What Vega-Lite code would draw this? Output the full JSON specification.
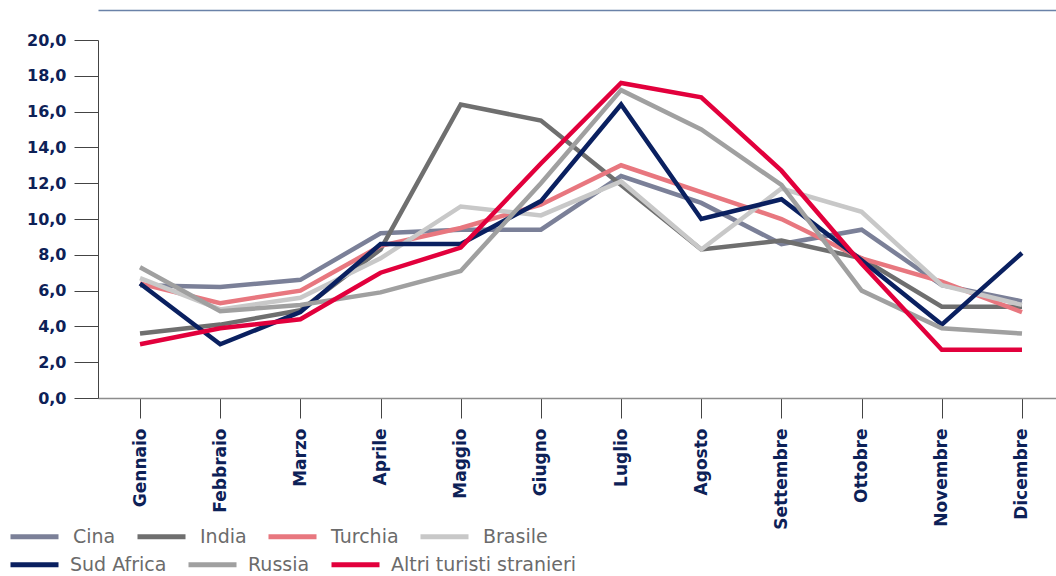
{
  "$schema": "https://vega.github.io/schema/vega-lite/v6.json",
  "width": 966,
  "height": 358,
  "autosize": {"type": "none"},
  "padding": {"left": 98, "top": 40, "right": 0, "bottom": 178},
  "background": "#ffffff",
  "config": {
    "view": {"stroke": null},
    "axis": {"grid": false, "labelFont": "DejaVu Sans", "labelFontWeight": "bold", "labelColor": "#0d2157", "labelFontSize": 16},
    "legend": {"labelFont": "DejaVu Sans", "labelFontSize": 19, "labelColor": "#6b6b6b", "labelLimit": 400, "title": null, "orient": "none", "direction": "horizontal", "symbolType": "stroke", "symbolSize": 2304, "symbolStrokeWidth": 5, "labelOffset": 12, "columnPadding": 11, "gridAlign": "each"}
  },
  "data": {"values": [
    {"serie": "Cina", "mese": "Gennaio", "v": 6.3}, {"serie": "Cina", "mese": "Febbraio", "v": 6.2}, {"serie": "Cina", "mese": "Marzo", "v": 6.6}, {"serie": "Cina", "mese": "Aprile", "v": 9.2}, {"serie": "Cina", "mese": "Maggio", "v": 9.4}, {"serie": "Cina", "mese": "Giugno", "v": 9.4}, {"serie": "Cina", "mese": "Luglio", "v": 12.4}, {"serie": "Cina", "mese": "Agosto", "v": 10.9}, {"serie": "Cina", "mese": "Settembre", "v": 8.6}, {"serie": "Cina", "mese": "Ottobre", "v": 9.4}, {"serie": "Cina", "mese": "Novembre", "v": 6.3}, {"serie": "Cina", "mese": "Dicembre", "v": 5.4},
    {"serie": "India", "mese": "Gennaio", "v": 3.6}, {"serie": "India", "mese": "Febbraio", "v": 4.1}, {"serie": "India", "mese": "Marzo", "v": 4.9}, {"serie": "India", "mese": "Aprile", "v": 8.3}, {"serie": "India", "mese": "Maggio", "v": 16.4}, {"serie": "India", "mese": "Giugno", "v": 15.5}, {"serie": "India", "mese": "Luglio", "v": 11.9}, {"serie": "India", "mese": "Agosto", "v": 8.3}, {"serie": "India", "mese": "Settembre", "v": 8.8}, {"serie": "India", "mese": "Ottobre", "v": 7.8}, {"serie": "India", "mese": "Novembre", "v": 5.1}, {"serie": "India", "mese": "Dicembre", "v": 5.1},
    {"serie": "Turchia", "mese": "Gennaio", "v": 6.4}, {"serie": "Turchia", "mese": "Febbraio", "v": 5.3}, {"serie": "Turchia", "mese": "Marzo", "v": 6.0}, {"serie": "Turchia", "mese": "Aprile", "v": 8.5}, {"serie": "Turchia", "mese": "Maggio", "v": 9.5}, {"serie": "Turchia", "mese": "Giugno", "v": 10.8}, {"serie": "Turchia", "mese": "Luglio", "v": 13.0}, {"serie": "Turchia", "mese": "Agosto", "v": 11.5}, {"serie": "Turchia", "mese": "Settembre", "v": 10.0}, {"serie": "Turchia", "mese": "Ottobre", "v": 7.8}, {"serie": "Turchia", "mese": "Novembre", "v": 6.5}, {"serie": "Turchia", "mese": "Dicembre", "v": 4.8},
    {"serie": "Brasile", "mese": "Gennaio", "v": 6.7}, {"serie": "Brasile", "mese": "Febbraio", "v": 4.95}, {"serie": "Brasile", "mese": "Marzo", "v": 5.6}, {"serie": "Brasile", "mese": "Aprile", "v": 7.8}, {"serie": "Brasile", "mese": "Maggio", "v": 10.7}, {"serie": "Brasile", "mese": "Giugno", "v": 10.2}, {"serie": "Brasile", "mese": "Luglio", "v": 12.1}, {"serie": "Brasile", "mese": "Agosto", "v": 8.3}, {"serie": "Brasile", "mese": "Settembre", "v": 11.7}, {"serie": "Brasile", "mese": "Ottobre", "v": 10.4}, {"serie": "Brasile", "mese": "Novembre", "v": 6.3}, {"serie": "Brasile", "mese": "Dicembre", "v": 5.2},
    {"serie": "Sud Africa", "mese": "Gennaio", "v": 6.4}, {"serie": "Sud Africa", "mese": "Febbraio", "v": 3.0}, {"serie": "Sud Africa", "mese": "Marzo", "v": 4.8}, {"serie": "Sud Africa", "mese": "Aprile", "v": 8.6}, {"serie": "Sud Africa", "mese": "Maggio", "v": 8.6}, {"serie": "Sud Africa", "mese": "Giugno", "v": 11.0}, {"serie": "Sud Africa", "mese": "Luglio", "v": 16.4}, {"serie": "Sud Africa", "mese": "Agosto", "v": 10.0}, {"serie": "Sud Africa", "mese": "Settembre", "v": 11.1}, {"serie": "Sud Africa", "mese": "Ottobre", "v": 7.7}, {"serie": "Sud Africa", "mese": "Novembre", "v": 4.1}, {"serie": "Sud Africa", "mese": "Dicembre", "v": 8.1},
    {"serie": "Russia", "mese": "Gennaio", "v": 7.3}, {"serie": "Russia", "mese": "Febbraio", "v": 4.85}, {"serie": "Russia", "mese": "Marzo", "v": 5.2}, {"serie": "Russia", "mese": "Aprile", "v": 5.9}, {"serie": "Russia", "mese": "Maggio", "v": 7.1}, {"serie": "Russia", "mese": "Giugno", "v": 12.0}, {"serie": "Russia", "mese": "Luglio", "v": 17.2}, {"serie": "Russia", "mese": "Agosto", "v": 15.0}, {"serie": "Russia", "mese": "Settembre", "v": 11.9}, {"serie": "Russia", "mese": "Ottobre", "v": 6.0}, {"serie": "Russia", "mese": "Novembre", "v": 3.9}, {"serie": "Russia", "mese": "Dicembre", "v": 3.6},
    {"serie": "Altri turisti stranieri", "mese": "Gennaio", "v": 3.0}, {"serie": "Altri turisti stranieri", "mese": "Febbraio", "v": 3.9}, {"serie": "Altri turisti stranieri", "mese": "Marzo", "v": 4.4}, {"serie": "Altri turisti stranieri", "mese": "Aprile", "v": 7.0}, {"serie": "Altri turisti stranieri", "mese": "Maggio", "v": 8.4}, {"serie": "Altri turisti stranieri", "mese": "Giugno", "v": 13.1}, {"serie": "Altri turisti stranieri", "mese": "Luglio", "v": 17.6}, {"serie": "Altri turisti stranieri", "mese": "Agosto", "v": 16.8}, {"serie": "Altri turisti stranieri", "mese": "Settembre", "v": 12.7}, {"serie": "Altri turisti stranieri", "mese": "Ottobre", "v": 7.5}, {"serie": "Altri turisti stranieri", "mese": "Novembre", "v": 2.7}, {"serie": "Altri turisti stranieri", "mese": "Dicembre", "v": 2.7}
  ]},
  "layer": [
    {
      "transform": [{"filter": {"field": "serie", "oneOf": ["Cina", "India", "Turchia", "Brasile"]}}],
      "mark": {"type": "line", "strokeWidth": 4.5, "strokeJoin": "miter", "strokeCap": "butt"},
      "encoding": {
        "x": {
          "field": "mese", "type": "ordinal", "sort": null,
          "scale": {"type": "point", "padding": 0.524},
          "axis": {"title": null, "labelAngle": -90, "tickSize": 20, "tickColor": "#444444", "tickWidth": 1, "domainColor": "#8c8c8c", "domainWidth": 1.5, "labelPadding": 10, "labelFontSize": 17, "labelOverlap": false}
        },
        "y": {
          "field": "v", "type": "quantitative",
          "scale": {"domain": [0, 20], "nice": false},
          "axis": {"title": null, "values": [0, 2, 4, 6, 8, 10, 12, 14, 16, 18, 20], "labelOverlap": false, "labelExpr": "replace(format(datum.value, '.1f'), '.', ',')", "tickSize": 24, "tickColor": "#444444", "tickWidth": 1, "domainColor": "#444444", "domainWidth": 1, "labelPadding": 8, "labelFontSize": 16}
        },
        "color": {
          "field": "serie", "type": "nominal",
          "scale": {
            "domain": ["Cina", "India", "Turchia", "Brasile"],
            "range": ["#7b8098", "#6f6f6f", "#e8777f", "#c8c8c8"]
          },
          "legend": {"legendX": -90, "legendY": 470}
        }
      }
    },
    {
      "transform": [{"filter": {"field": "serie", "oneOf": ["Sud Africa", "Russia", "Altri turisti stranieri"]}}],
      "mark": {"type": "line", "strokeWidth": 4.5, "strokeJoin": "miter", "strokeCap": "butt"},
      "encoding": {
        "x": {"field": "mese", "type": "ordinal", "sort": null, "axis": null},
        "y": {"field": "v", "type": "quantitative", "axis": null},
        "color": {
          "field": "serie", "type": "nominal",
          "scale": {
            "domain": ["Sud Africa", "Russia", "Altri turisti stranieri"],
            "range": ["#0a2060", "#a0a0a0", "#e2003c"]
          },
          "legend": {"legendX": -90, "legendY": 498, "labelOffset": 9}
        }
      }
    },
    {
      "mark": {"type": "line", "strokeOpacity": 0},
      "encoding": {
        "x": {
          "field": "mese", "type": "ordinal", "sort": null,
          "axis": {"orient": "top", "title": null, "labels": false, "ticks": false, "offset": 30, "domainColor": "#6a82a8", "domainWidth": 1.5}
        },
        "y": {"field": "v", "type": "quantitative", "axis": null}
      }
    }
  ],
  "resolve": {"axis": {"x": "independent", "y": "independent"}, "scale": {"color": "independent"}}
}
